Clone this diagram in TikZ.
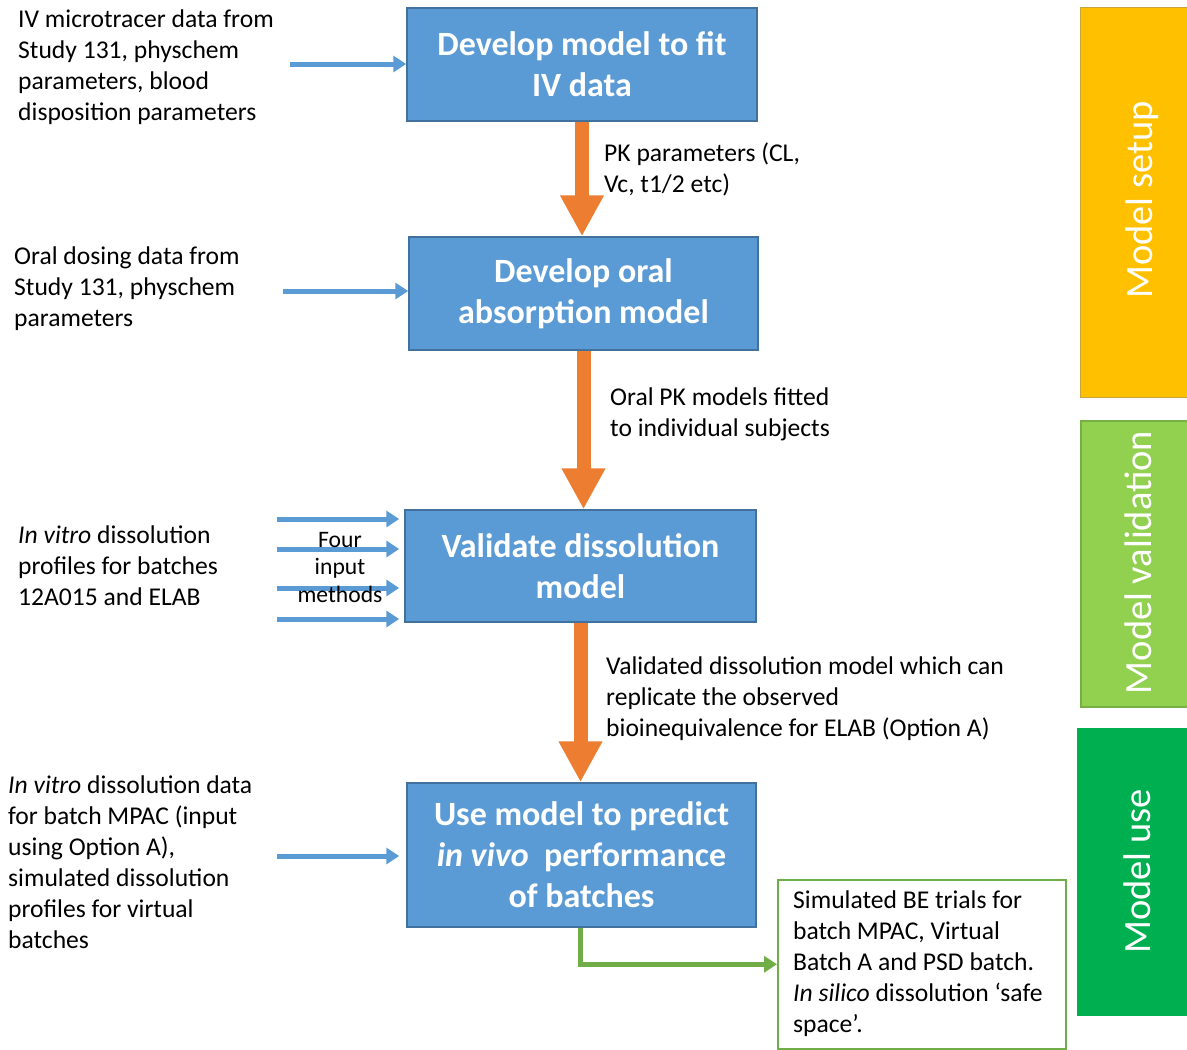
\documentclass[tikz,border=0pt]{standalone}
\usepackage{fontspec}
\setmainfont{Carlito}
\usetikzlibrary{arrows.meta}
\definecolor{boxblue}{HTML}{5B9BD5}
\definecolor{boxedge}{HTML}{41719C}
\definecolor{orng}{HTML}{ED7D31}
\definecolor{grn}{HTML}{70AD47}
\definecolor{ylw}{HTML}{FFC000}
\definecolor{ylwedge}{HTML}{C9A43C}
\definecolor{lgrn}{HTML}{92D050}
\definecolor{lgrnedge}{HTML}{74AE45}
\definecolor{dgrn}{HTML}{00B050}
\begin{document}
\begin{tikzpicture}[x=1pt,y=-1pt,
  stepbox/.style={draw=boxedge, line width=1.5pt, fill=boxblue, text=white,
    font=\fontsize{34}{41}\selectfont\bfseries, align=center, inner sep=0},
  txt/.style={font=\fontsize{25.6}{31}\selectfont, align=left, inner sep=0, anchor=base west},
  bluearrow/.style={draw=boxblue, line width=5pt, -{Triangle[length=13pt,width=16pt]}},
  orarrow/.style={draw=orng, line width=14pt, -{Triangle[length=41pt,width=41pt]}},
  grnarrow/.style={draw=grn, line width=5pt, -{Triangle[length=13pt,width=16pt]}},
  sidelabel/.style={rotate=90, anchor=base, text=white, inner sep=0,
    font=\fontsize{38.5}{46}\selectfont}
]
\useasboundingbox (0,0) rectangle (1187,1050);

% side bars
\node[fill=ylw, draw=ylwedge, line width=1pt, minimum width=108, minimum height=390, inner sep=0, anchor=north west] (barsetup) at (1080,7) {};
\node[fill=lgrn, draw=lgrnedge, line width=1.5pt, minimum width=108, minimum height=286, inner sep=0, anchor=north west] (barval) at (1080,420) {};
\node[fill=dgrn, draw=dgrn, line width=1pt, minimum width=111, minimum height=287, inner sep=0, anchor=north west] (baruse) at (1077,728) {};
\node[sidelabel] (lsetup) at (1152,200) {Model setup};
\node[sidelabel] (lval) at (1151,562.5) {Model validation};
\node[sidelabel] (luse) at (1150,871.5) {Model use};

% main boxes
\node[stepbox, minimum width=350, minimum height=113] (b1) at (582,64.5) {Develop model to fit\\IV data};
\node[stepbox, minimum width=349, minimum height=113] (b2) at (583.5,293.5) {Develop oral\\absorption model};
\node[stepbox, minimum width=351, minimum height=112] (b3) at (580.5,566) {Validate dissolution\\model};
\node[stepbox, minimum width=349, minimum height=144] (b4) at (581.5,855) {Use model to predict\\\textit{in vivo}\ \ performance\\of batches};

% result box
\node[draw=grn, line width=1.5pt, fill=white, minimum width=288, minimum height=169, inner sep=0, anchor=north west] (res) at (777,879) {};
\node[txt] (restext) at (793,1032) {Simulated BE trials for\\batch MPAC, Virtual\\Batch A and PSD batch.\\\textit{In silico} dissolution ‘safe\\space’.};

% orange arrows
\draw[orarrow] (b1.south) -- (b1.south |- b2.north);
\draw[orarrow] (b2.south) -- (b2.south |- b3.north);
\draw[orarrow] (b3.south) -- (b3.south |- b4.north);

% green arrow
\draw[grnarrow] ([xshift=-1.5pt]b4.south) |- (res.west);

% left inputs (anchor = baseline of the last line)
\node[txt] (in1) at (18,120) {IV microtracer data from\\Study 131, physchem\\parameters, blood\\disposition parameters};
\node[txt] (in2) at (14,326) {Oral dosing data from\\Study 131, physchem\\parameters};
\node[txt] (in3) at (18,605) {\textit{In vitro} dissolution\\profiles for batches\\12A015 and ELAB};
\node[txt] (in4) at (8,948) {\textit{In vitro} dissolution data\\for batch MPAC (input\\using Option A),\\simulated dissolution\\profiles for virtual\\batches};

\coordinate (s1) at (290,64);
\coordinate (s2) at (283,291);
\coordinate (s3a) at (277,519);
\coordinate (s3b) at (277,549);
\coordinate (s3c) at (277,588);
\coordinate (s3d) at (277,619);
\coordinate (s4) at (277,856);

\draw[bluearrow] (s1) -- (s1 -| b1.west);
\draw[bluearrow] (s2) -- (s2 -| b2.west);
\draw[bluearrow] (s3a) -- ([xshift=-5pt]s3a -| b3.west);
\draw[bluearrow] (s3b) -- ([xshift=-5pt]s3b -| b3.west);
\draw[bluearrow] (s3c) -- ([xshift=-5pt]s3c -| b3.west);
\draw[bluearrow] (s3d) -- ([xshift=-5pt]s3d -| b3.west);
\draw[bluearrow] (s4) -- ([xshift=-7pt]s4 -| b4.west);

\node[font=\fontsize{23.6}{27.5}\selectfont, align=center, inner sep=0, anchor=base] (four) at (340,602) {Four\\input\\methods};

% right labels
\node[txt] (lab1) at (604,192) {PK parameters (CL,\\Vc, t1/2 etc)};
\node[txt] (lab2) at (610,436) {Oral PK models fitted\\to individual subjects};
\node[txt] (lab3) at (606,736) {Validated dissolution model which can\\replicate the observed\\bioinequivalence for ELAB (Option A)};
\end{tikzpicture}
\end{document}
